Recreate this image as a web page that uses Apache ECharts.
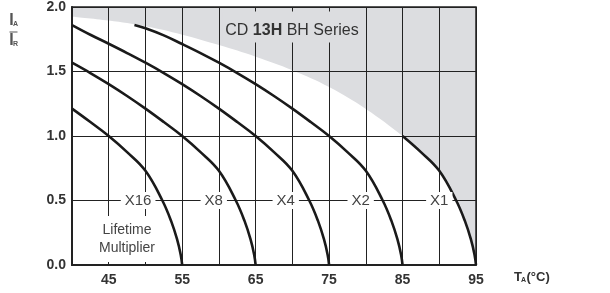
<!DOCTYPE html>
<html>
<head>
<meta charset="utf-8">
<script src="https://cdn.jsdelivr.net/npm/echarts@6/dist/echarts.min.js"></script>
<style>
    html, body { margin: 0; padding: 0; background: #fff; }
    #chart { width: 610px; height: 293px; }
</style>
</head>
<body>
<div id="chart"></div>
<script>
// derating curves per lifetime multiplier, [T (°C), IA/IR]
var curveX16 = [[40, 1.212], [42.5, 1.108], [45, 1.0], [47.5, 0.875], [50, 0.73], [52.3, 0.5], [53.5, 0.34], [54.3, 0.2], [54.8, 0.08], [55, 0]];
var curveX8 = [[40, 1.568], [42.5, 1.488], [45, 1.402], [47.5, 1.31], [50, 1.212], [52.5, 1.108], [55, 1.0], [57.5, 0.875], [60, 0.73], [62.3, 0.5], [63.5, 0.34], [64.3, 0.2], [64.8, 0.08], [65, 0]];
var curveX4 = [[40, 1.86], [42.5, 1.785], [45, 1.715], [47.5, 1.643], [50, 1.568], [52.5, 1.488], [55, 1.402], [57.5, 1.31], [60, 1.212], [62.5, 1.108], [65, 1.0], [67.5, 0.875], [70, 0.73], [72.3, 0.5], [73.5, 0.34], [74.3, 0.2], [74.8, 0.08], [75, 0]];
var curveX2 = [[48.5, 1.86], [50, 1.835], [52.5, 1.78], [55, 1.713], [57.5, 1.643], [60, 1.568], [62.5, 1.488], [65, 1.402], [67.5, 1.31], [70, 1.212], [72.5, 1.108], [75, 1.0], [77.5, 0.875], [80, 0.73], [82.3, 0.5], [83.5, 0.34], [84.3, 0.2], [84.8, 0.08], [85, 0]];
var curveX1 = [[85, 1.0], [87.5, 0.875], [90, 0.73], [92.3, 0.5], [93.5, 0.34], [94.3, 0.2], [94.8, 0.08], [95, 0]];

// upper edge of the white (allowed) region, joins X1 at 85 °C
var limitEdge = [[40, 1.925], [45, 1.895], [50, 1.85], [55, 1.785], [60, 1.705], [65, 1.615], [70, 1.51], [75, 1.38], [80, 1.21], [85, 1.0]];

var multNames = ['X16', 'X8', 'X4', 'X2', 'X1'];
var multTemps = [49, 59.3, 69.1, 79.3, 90];
var xLabelTicks = [45, 55, 65, 75, 85, 95];

var chart = echarts.init(document.getElementById('chart'));

function curve(data) {
    return {
        type: 'line',
        data: data,
        smooth: 0.4,
        showSymbol: false,
        silent: true,
        z: 2,
        lineStyle: { color: '#1a1a1a', width: 2.6 }
    };
}

var option = {
    animation: false,
    grid: {
        show: true,
        z: 1,
        left: 72,
        right: 134,
        top: 7,
        bottom: 28,
        borderColor: '#222',
        borderWidth: 1.5,
        backgroundColor: 'transparent'
    },
    xAxis: {
        type: 'value',
        z: 1,
        min: 40,
        max: 95,
        interval: 5,
        axisLine: { lineStyle: { color: '#222', width: 2 } },
        axisTick: { show: false },
        splitLine: { lineStyle: { color: '#222', width: 1 } },
        axisLabel: {
            margin: 8,
            color: '#333',
            fontFamily: 'Liberation Sans',
            fontWeight: 'bold',
            fontSize: 14,
            formatter: function(v) {
                return xLabelTicks.indexOf(v) >= 0 ? String(v) : '';
            }
        }
    },
    yAxis: {
        type: 'value',
        z: 1,
        min: 0,
        max: 2,
        interval: 0.5,
        axisLine: { show: true, lineStyle: { color: '#222', width: 2 } },
        axisTick: { show: false },
        splitLine: { lineStyle: { color: '#222', width: 1 } },
        axisLabel: {
            margin: 6,
            color: '#333',
            fontFamily: 'Liberation Sans',
            fontWeight: 'bold',
            fontSize: 14,
            formatter: function(v) {
                return v.toFixed(1);
            }
        }
    },
    series: [
        {
            // grey shading above the limit edge
            type: 'line',
            data: limitEdge.concat(curveX1.slice(1)),
            smooth: 0.4,
            showSymbol: false,
            silent: true,
            z: 0,
            lineStyle: { width: 0, opacity: 0 },
            areaStyle: { color: '#dcdde0', opacity: 1, origin: 'end' }
        },
        curve(curveX16),
        curve(curveX8),
        curve(curveX4),
        curve(curveX2),
        curve(curveX1)
    ]
};

chart.setOption(option);

// texts placed through the chart's own coordinate system
var narrow = '"Liberation Sans Narrow", "Liberation Sans", sans-serif';
var graphics = [];

multNames.forEach(function(name, i) {
    var p = chart.convertToPixel({ gridIndex: 0 }, [multTemps[i], 0.5]);
    graphics.push({
        type: 'text',
        x: p[0],
        y: p[1],
        z: 10,
        style: {
            text: name,
            align: 'center',
            verticalAlign: 'middle',
            font: '15px ' + narrow,
            fill: '#444',
            backgroundColor: '#fff',
            padding: [1, 4]
        }
    });
});

graphics.push({
    type: 'text',
    x: 127,
    y: 239,
    z: 10,
    style: {
        text: 'Lifetime\nMultiplier',
        align: 'center',
        verticalAlign: 'middle',
        font: '14px ' + narrow,
        lineHeight: 18,
        fill: '#444',
        backgroundColor: '#fff',
        padding: [4, 3, 6, 3]
    }
});

graphics.push({
    type: 'text',
    x: 292,
    y: 27,
    z: 10,
    style: {
        text: '{n|CD }{b|13H}{n| BH Series}',
        align: 'center',
        verticalAlign: 'middle',
        backgroundColor: '#dcdde0',
        padding: [11, 3, 4, 3],
        rich: {
            n: { fontSize: 16, fontFamily: narrow, fill: '#333' },
            b: { fontSize: 16, fontFamily: narrow, fontWeight: 'bold', fill: '#333' }
        }
    }
});

// y axis name IA / IR
var boldNarrow = 'bold 16px ' + narrow;
graphics.push(
    { type: 'text', x: 11.5, y: 21, style: { text: 'I', font: boldNarrow, fill: '#555', align: 'center', verticalAlign: 'middle' } },
    { type: 'text', x: 15.5, y: 24, style: { text: 'A', font: 'bold 7px ' + narrow, fill: '#555', align: 'center', verticalAlign: 'middle' } },
    { type: 'line', shape: { x1: 9.5, y1: 32, x2: 17.5, y2: 32 }, style: { stroke: '#555', lineWidth: 1 } },
    { type: 'text', x: 11.5, y: 41, style: { text: 'I', font: boldNarrow, fill: '#555', align: 'center', verticalAlign: 'middle' } },
    { type: 'text', x: 15.5, y: 44, style: { text: 'R', font: 'bold 7px ' + narrow, fill: '#555', align: 'center', verticalAlign: 'middle' } }
);

// x axis name TA (°C)
graphics.push(
    { type: 'text', x: 514, y: 277, style: { text: 'T', font: 'bold 13px "Liberation Sans"', fill: '#333', align: 'left', verticalAlign: 'middle' } },
    { type: 'text', x: 521, y: 280, style: { text: 'A', font: 'bold 7px "Liberation Sans"', fill: '#333', align: 'left', verticalAlign: 'middle' } },
    { type: 'text', x: 526.5, y: 277, style: { text: '(°C)', font: 'bold 13px "Liberation Sans"', fill: '#333', align: 'left', verticalAlign: 'middle' } }
);

chart.setOption({ graphic: graphics });
</script>
</body>
</html>
